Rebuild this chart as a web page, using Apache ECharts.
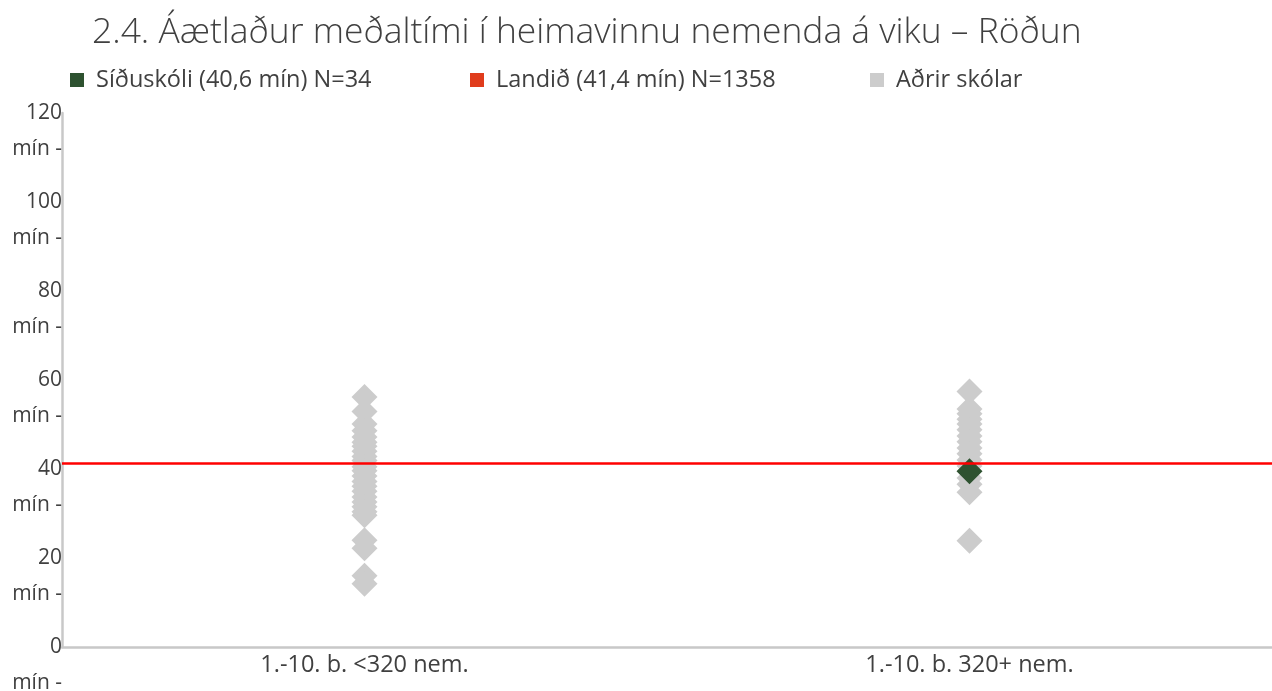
<!DOCTYPE html>
<html>
<head>
<meta charset="utf-8">
<script src="https://cdn.jsdelivr.net/npm/echarts@6/dist/echarts.min.js"></script>
<style>html,body{margin:0;padding:0;background:#fff}#c{width:1272px;height:691px}</style>
</head>
<body>
<div id="c"></div>
<script>
const titleText = '2.4. Áætlaður meðaltími í heimavinnu nemenda á viku – Röðun';
const categories = ['1.-10. b. <320 nem.', '1.-10. b. 320+ nem.'];
const seriesNames = ['Síðuskóli (40,6 mín) N=34', 'Landið (41,4 mín) N=1358', 'Aðrir skólar'];
const yTicks = [0, 20, 40, 60, 80, 100, 120];
const unitLabel = 'mín -';
const otherSmall = [56.2, 52.9, 50.1, 48.6, 47.2, 46.0, 45.1, 44.0, 42.8, 41.9, 40.5, 39.6, 38.4, 37.2, 36.1, 35.0, 33.7, 32.6, 31.5, 30.4, 29.6, 24.0, 22.2, 16.0, 14.2];
const otherLarge = [57.4, 53.5, 52.4, 51.2, 50.1, 48.8, 47.4, 46.1, 44.7, 43.4, 42.0, 40.7, 38.0, 36.6, 34.8, 23.9];
const schoolCategory = 1;
const schoolValue = 39.5;
const nationalValue = 41.4;

const FONT = '"Open Sans"';
const TXT = '#404040';

const otherData = otherSmall.map(v => [0, v]).concat(otherLarge.map(v => [1, v]));

const chart = echarts.init(document.getElementById('c'), null, {renderer: 'canvas'});
const legendCommon = {
  top: 68, icon: 'rect', itemWidth: 14, itemHeight: 14, itemGap: 0,
  textStyle: {fontFamily: FONT, fontSize: 23.5, color: TXT, padding: [0, 0, 0, 7]}, padding: 0
};
const yBase = {
  type: 'value', min: 0, max: 120, interval: 20, position: 'left',
  axisTick: {show: false},
  splitLine: {show: false}
};
chart.setOption({
  animation: false,
  title: {
    text: titleText, left: 92, top: 15, padding: 0,
    textStyle: {fontFamily: FONT, fontSize: 35.4, fontWeight: 300, color: TXT}
  },
  legend: [
    Object.assign({left: 70, data: [seriesNames[0]]}, legendCommon),
    Object.assign({left: 470, data: [seriesNames[1]]}, legendCommon),
    Object.assign({left: 870, data: [seriesNames[2]]}, legendCommon)
  ],
  grid: {left: 62, right: 0, top: 113, bottom: 44, containLabel: false, outerBoundsMode: 'none'},
  xAxis: {
    type: 'category', data: categories, boundaryGap: true,
    axisLine: {lineStyle: {color: '#c8c8c8', width: 2.5}},
    axisTick: {show: false},
    axisLabel: {fontFamily: FONT, fontSize: 23.5, color: TXT, margin: 6}
  },
  yAxis: [
    Object.assign({}, yBase, {
      axisLine: {show: true, lineStyle: {color: '#c8c8c8', width: 2.5}},
      axisLabel: {
        fontFamily: FONT, fontSize: 21, color: TXT, margin: 0, align: 'right', verticalAlign: 'middle',
        showMinLabel: true, showMaxLabel: true,
        formatter: v => yTicks.includes(v) ? String(v) : ''
      }
    }),
    Object.assign({}, yBase, {
      axisLine: {show: false},
      axisLabel: {
        fontFamily: FONT, fontSize: 21, color: TXT, margin: 0, align: 'right', verticalAlign: 'top',
        lineHeight: 73, showMinLabel: true, showMaxLabel: true,
        formatter: v => yTicks.includes(v) ? unitLabel : ''
      }
    })
  ],
  series: [
    {
      name: seriesNames[1], type: 'line', data: [], z: 1, yAxisIndex: 0,
      itemStyle: {color: '#e03c1c'},
      markLine: {
        silent: true, symbol: 'none', animation: false,
        label: {show: false},
        lineStyle: {color: '#ff0000', width: 2.5, type: 'solid'},
        data: [{yAxis: nationalValue}]
      }
    },
    {
      name: seriesNames[2], type: 'scatter', symbol: 'diamond', symbolSize: 26, z: 3, yAxisIndex: 0,
      itemStyle: {color: '#cccccc', opacity: 1},
      data: otherData
    },
    {
      name: seriesNames[0], type: 'scatter', symbol: 'diamond', symbolSize: 26, z: 4, yAxisIndex: 0,
      itemStyle: {color: '#2e5230', opacity: 1},
      data: [[schoolCategory, schoolValue]]
    }
  ]
});
</script>
</body>
</html>
